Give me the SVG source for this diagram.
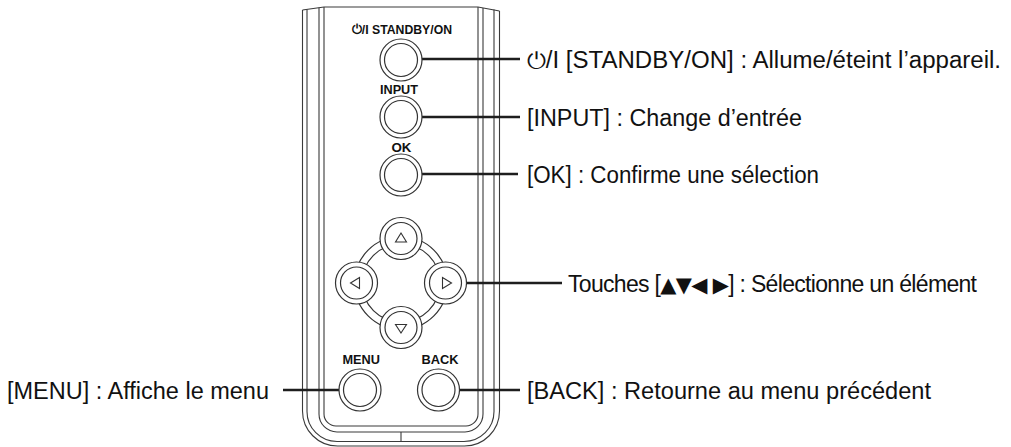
<svg xmlns="http://www.w3.org/2000/svg" width="1011" height="447" viewBox="0 0 1011 447">
<style>
.body{fill:none;stroke:#3a3a3a;stroke-width:1.1}
.btn{fill:#fff;stroke:#333;stroke-width:1.2}
.ring{fill:none;stroke:#333;stroke-width:1.2}
.tri{fill:none;stroke:#333;stroke-width:1.1;stroke-linejoin:miter}
.conn{fill:none;stroke:#1e1e1e;stroke-width:2.3}
.lbl{font-family:"Liberation Sans",Arial,"DejaVu Sans",sans-serif;font-size:23px;fill:#111}
.sym{font-family:"DejaVu Sans",sans-serif;font-size:21px}
.key{font-family:"Liberation Sans",Arial,"DejaVu Sans",sans-serif;font-size:12.5px;font-weight:bold;fill:#111}
</style>
<rect width="1011" height="447" fill="#fff"/>
<g id="remote">
<path class="body" d="M302.5,10 L302.5,411 A35,35 0 0 0 337.5,446 L464.5,446 A35,35 0 0 0 499.5,411 L499.5,11"/>
<path class="body" d="M307,9.4 L307,411.5 A30,30 0 0 0 337,441.5 L464,441.5 A30,30 0 0 0 494,411.5 L494,9.5"/>
<path class="body" d="M319,7.7 L319,414 A18,18 0 0 0 337,432 L465,432 A18,18 0 0 0 483,414 L483,8"/>
<path class="body" d="M324,7 L324,414 A12,12 0 0 0 336,426 L466,426 A12,12 0 0 0 478,414 L478,7"/>
<path class="body" d="M302.5,10 L324,7 L478,7 L499.5,11"/>
<path class="body" d="M401,432 L401,441.5"/>
</g>
<g id="connectors">
<path class="conn" d="M422,59 H520"/>
<path class="conn" d="M422,117 H520"/>
<path class="conn" d="M422,174 H518"/>
<path class="conn" d="M466.5,283 H562"/>
<path class="conn" d="M459,390 H520"/>
<path class="conn" d="M283,390 H339.5"/>
</g>
<g id="btn-standby">
<text class="key" x="352" y="34" textLength="100" lengthAdjust="spacingAndGlyphs">⏻/I STANDBY/ON</text>
<circle class="btn" cx="401" cy="60" r="21"/>
<circle class="btn" cx="401" cy="60" r="16.5"/>
</g>
<g id="btn-input">
<text class="key" x="380" y="94" textLength="38" lengthAdjust="spacingAndGlyphs">INPUT</text>
<circle class="btn" cx="401" cy="117" r="21"/>
<circle class="btn" cx="401" cy="117" r="16.5"/>
</g>
<g id="btn-ok">
<text class="key" x="391.5" y="152" textLength="20" lengthAdjust="spacingAndGlyphs">OK</text>
<circle class="btn" cx="401" cy="175" r="21"/>
<circle class="btn" cx="401" cy="175" r="16.5"/>
</g>
<g id="dpad">
<circle class="ring" cx="401" cy="283" r="46.5"/>
<circle class="ring" cx="401" cy="283" r="39"/>
<g id="btn-up">
<circle class="btn" cx="401" cy="238.5" r="21"/>
<circle class="btn" cx="401" cy="238.5" r="16"/>
<path class="tri" d="M401,233 L406.5,242 L395.5,242 Z"/>
</g>
<g id="btn-down">
<circle class="btn" cx="401" cy="327.5" r="21"/>
<circle class="btn" cx="401" cy="327.5" r="16"/>
<path class="tri" d="M401,333 L406.5,324.5 L395.5,324.5 Z"/>
</g>
<g id="btn-left">
<circle class="btn" cx="356.5" cy="283" r="21"/>
<circle class="btn" cx="356.5" cy="283" r="16"/>
<path class="tri" d="M350.5,283 L359.5,277.5 L359.5,288.5 Z"/>
</g>
<g id="btn-right">
<circle class="btn" cx="445.5" cy="283" r="21"/>
<circle class="btn" cx="445.5" cy="283" r="16"/>
<path class="tri" d="M451.5,283 L442.5,277.5 L442.5,288.5 Z"/>
</g>
</g>
<g id="btn-menu">
<text class="key" x="342.5" y="363.5" textLength="37.5" lengthAdjust="spacingAndGlyphs">MENU</text>
<circle class="btn" cx="360" cy="390" r="21"/>
<circle class="btn" cx="360" cy="390" r="16.5"/>
</g>
<g id="btn-back">
<text class="key" x="421.5" y="363.5" textLength="37" lengthAdjust="spacingAndGlyphs">BACK</text>
<circle class="btn" cx="438.5" cy="390" r="21"/>
<circle class="btn" cx="438.5" cy="390" r="16.5"/>
</g>
<g id="label-standby"><text class="lbl" x="527" y="67.5" textLength="474" lengthAdjust="spacingAndGlyphs">⏻/I [STANDBY/ON] : Allume/éteint l’appareil.</text></g>
<g id="label-input"><text class="lbl" x="527" y="125.5" textLength="275" lengthAdjust="spacingAndGlyphs">[INPUT] : Change d’entrée</text></g>
<g id="label-ok"><text class="lbl" x="527" y="183" textLength="292" lengthAdjust="spacingAndGlyphs">[OK] : Confirme une sélection</text></g>
<g id="label-arrows"><text class="lbl" x="568" y="291.5" textLength="409" lengthAdjust="spacing">Touches [<tspan class="sym">▲▼◀ ▶</tspan>] : Sélectionne un élément</text></g>
<g id="label-back"><text class="lbl" x="527" y="398.5" textLength="404" lengthAdjust="spacingAndGlyphs">[BACK] : Retourne au menu précédent</text></g>
<g id="label-menu"><text class="lbl" x="7" y="398.5" textLength="262" lengthAdjust="spacingAndGlyphs">[MENU] : Affiche le menu</text></g>
</svg>
